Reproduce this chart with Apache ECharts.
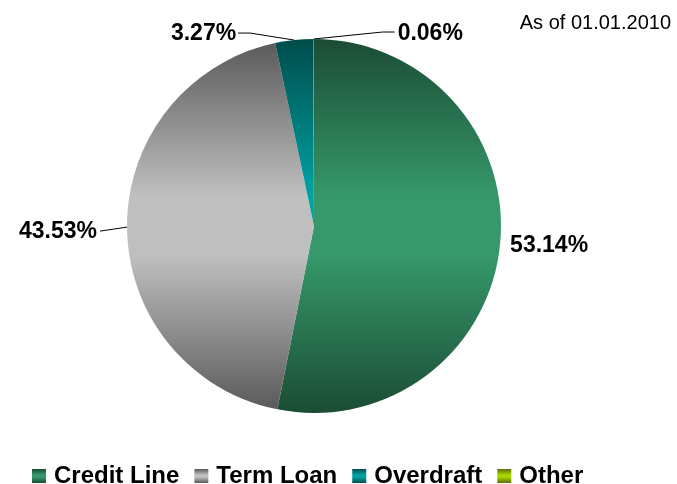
<!DOCTYPE html>
<html>
<head>
<meta charset="utf-8">
<script src="https://cdn.jsdelivr.net/npm/echarts@6/dist/echarts.min.js"></script>
<style>
  html, body { margin: 0; padding: 0; background: #fff; }
  #chart { width: 677px; height: 484px; }
</style>
</head>
<body>
<div id="chart"></div>
<script>
// Portfolio split by product type
const categories = ['Credit Line', 'Term Loan', 'Overdraft', 'Other'];
const shares = [53.14, 43.53, 3.27, 0.06];
const asOfText = 'As of 01.01.2010';

// dark edge / light middle shade pairs per product
const shades = [
  ['#1b4c34', '#36986b'],
  ['#585858', '#bfbfbf'],
  ['#004c4c', '#00a3a3'],
  ['#5a6e00', '#a8d400']
];

const CX = 314, CY = 226, R = 187;
const FONT = '"Liberation Sans", Arial, Helvetica, sans-serif';

function shade(pair, global) {
  const stops = [
    { offset: 0, color: pair[0] },
    { offset: 0.42, color: pair[1] },
    { offset: 0.58, color: pair[1] },
    { offset: 1, color: pair[0] }
  ];
  if (global) {
    return new echarts.graphic.LinearGradient(0, CY - R, 0, CY + R, stops, true);
  }
  return new echarts.graphic.LinearGradient(0, 0, 0, 1, stops);
}

// leader line bends and label placement, relative to each slice's edge anchor
const labelGuides = [
  { line: null, text: [10, 1], align: 'left' },
  { line: [[-27, 4]], text: [-30, 5], align: 'right' },
  { line: [[-44, -7], [-56, -7]], text: [-58, -6], align: 'right' },
  { line: [[69, -7], [81, -7]], text: [84, -5], align: 'left' }
];

const chart = echarts.init(document.getElementById('chart'), null, { renderer: 'canvas' });

chart.setOption({
  backgroundColor: '#ffffff',
  animation: false,
  title: {
    text: asOfText,
    right: 6,
    top: 13,
    padding: 0,
    textStyle: { fontFamily: FONT, fontSize: 20, fontWeight: 'normal', color: '#000' }
  },
  legend: {
    data: categories.map((name, i) => ({
      name: name,
      icon: 'rect',
      itemStyle: { color: shade(shades[i], false) }
    })),
    left: 32,
    top: 464,
    padding: 0,
    itemGap: 15,
    itemWidth: 14,
    itemHeight: 14,
    selectedMode: false,
    textStyle: {
      fontFamily: FONT, fontSize: 24, fontWeight: 'bold', color: '#000',
      lineHeight: 24, padding: [0, 0, 0, 3]
    }
  },
  series: [{
    type: 'pie',
    center: [CX, CY],
    radius: R,
    startAngle: 90,
    clockwise: true,
    avoidLabelOverlap: false,
    minAngle: 0,
    data: categories.map((name, i) => ({
      name: name,
      value: shares[i],
      itemStyle: { color: shade(shades[i], true) },
      labelLine: { show: labelGuides[i].line !== null }
    })),
    itemStyle: { borderWidth: 0 },
    emphasis: { disabled: true },
    label: {
      show: true,
      position: 'outside',
      formatter: p => p.value.toFixed(2) + '%',
      fontFamily: FONT,
      fontSize: 23,
      fontWeight: 'bold',
      color: '#000'
    },
    labelLine: {
      show: true,
      length: 10,
      length2: 10,
      lineStyle: { color: '#000', width: 1 }
    },
    labelLayout: function (params) {
      const g = labelGuides[params.dataIndex];
      const pts = params.labelLinePoints;
      if (!pts || !pts.length) return {};
      const p0 = pts[0];
      const out = {
        x: p0[0] + g.text[0],
        y: p0[1] + g.text[1],
        align: g.align,
        verticalAlign: 'middle'
      };
      if (g.line) {
        out.labelLinePoints = [p0].concat(g.line.map(d => [p0[0] + d[0], p0[1] + d[1]]));
      }
      return out;
    }
  }]
});
</script>
</body>
</html>
